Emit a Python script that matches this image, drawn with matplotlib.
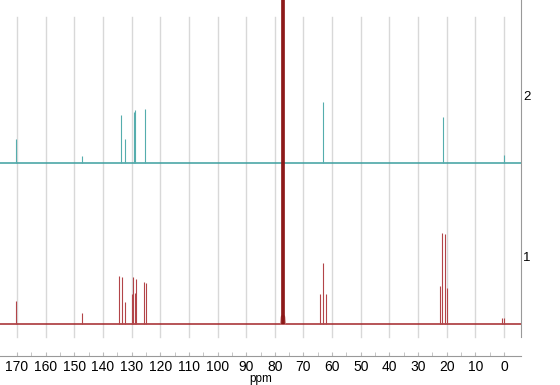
import numpy as np
import matplotlib.pyplot as plt

plt.rcParams['font.family'] = ['Liberation Sans', 'DejaVu Sans']

# spectrum 2 (top, teal): peak positions (ppm) and heights (a.u.)
ppm_2 = [170.2, 147.4, 133.8, 132.2, 129.1, 128.9, 125.2, 63.1, 21.2, 0.2]
int_2 = [24, 7, 48, 24, 51, 53, 54, 61, 46, 8]

# spectrum 1 (bottom, red)
ppm_1 = [170.3, 147.3, 134.3, 133.2, 132.2, 129.7, 129.4, 128.7, 128.3,
         125.6, 125.0, 64.1, 63.1, 62.0, 22.2, 21.5, 20.6, 19.9, 0.6, 0.0]
int_1 = [23, 11, 48, 47, 22, 30, 47, 31, 45, 42, 41, 30, 61, 30, 38, 91,
         90, 36, 6, 6]

# solvent (CDCl3) lines in spectrum 1
ppm_solv = [77.35, 77.16, 76.97]
int_solv = [420, 420, 420]

labels = ['1', '2']
offsets = [32, 193]
colors = ['#a3262a', '#3c9f9f']
peak_colors = ['#b24448', '#55adad']

X0, X1 = 175.9, -5.9

fig = plt.figure(figsize=(5.6, 3.85), dpi=100)
ax = fig.add_axes([0, 29 / 385, 521 / 560, 356 / 385])
ax.set_xlim(X0, X1)
ax.set_ylim(0, 356)

# grid
for g in np.arange(0, 171, 10):
    ax.plot([g, g], [19, 339], color='#d8d8d8', lw=1, zorder=1)

specs = [(ppm_1, int_1), (ppm_2, int_2)]
for (p, h), off, c, pc, lab in zip(specs, offsets, colors, peak_colors, labels):
    ax.plot([X0, X1], [off, off], color=c, lw=1.1, zorder=3)
    ax.vlines(p, off, np.array(h) + off, color=pc, lw=0.8, zorder=3)
    ax.text(1.004, (off + 66) / 356, lab, transform=ax.transAxes,
            fontsize=9.5, ha='left', va='center')

# solvent peak with broad foot
ax.vlines(ppm_solv, offsets[0], np.array(int_solv) + offsets[0],
          color='#8a1414', lw=1.2, zorder=4)
ax.plot([77.9, 77.7, 77.6, 76.7, 76.6, 76.4],
        [offsets[0], offsets[0] + 7, offsets[0] + 8, offsets[0] + 8,
         offsets[0] + 7, offsets[0]], color='#c07070', lw=1, zorder=3)

for s in ['top', 'left']:
    ax.spines[s].set_visible(False)
ax.spines['right'].set_color('#999999')
ax.spines['right'].set_bounds(19, 356)
ax.spines['bottom'].set_color('#999999')
ax.set_yticks([])
ax.set_xticks(np.arange(0, 171, 10))
ax.set_xticks(np.arange(0, 171, 5), minor=True)
ax.tick_params(axis='x', which='both', direction='in', length=3,
               color='#bbbbbb', labelsize=10, pad=3)
ax.set_xlabel('ppm', fontsize=8.5, labelpad=-1)

fig.savefig('out.png', dpi=100)
